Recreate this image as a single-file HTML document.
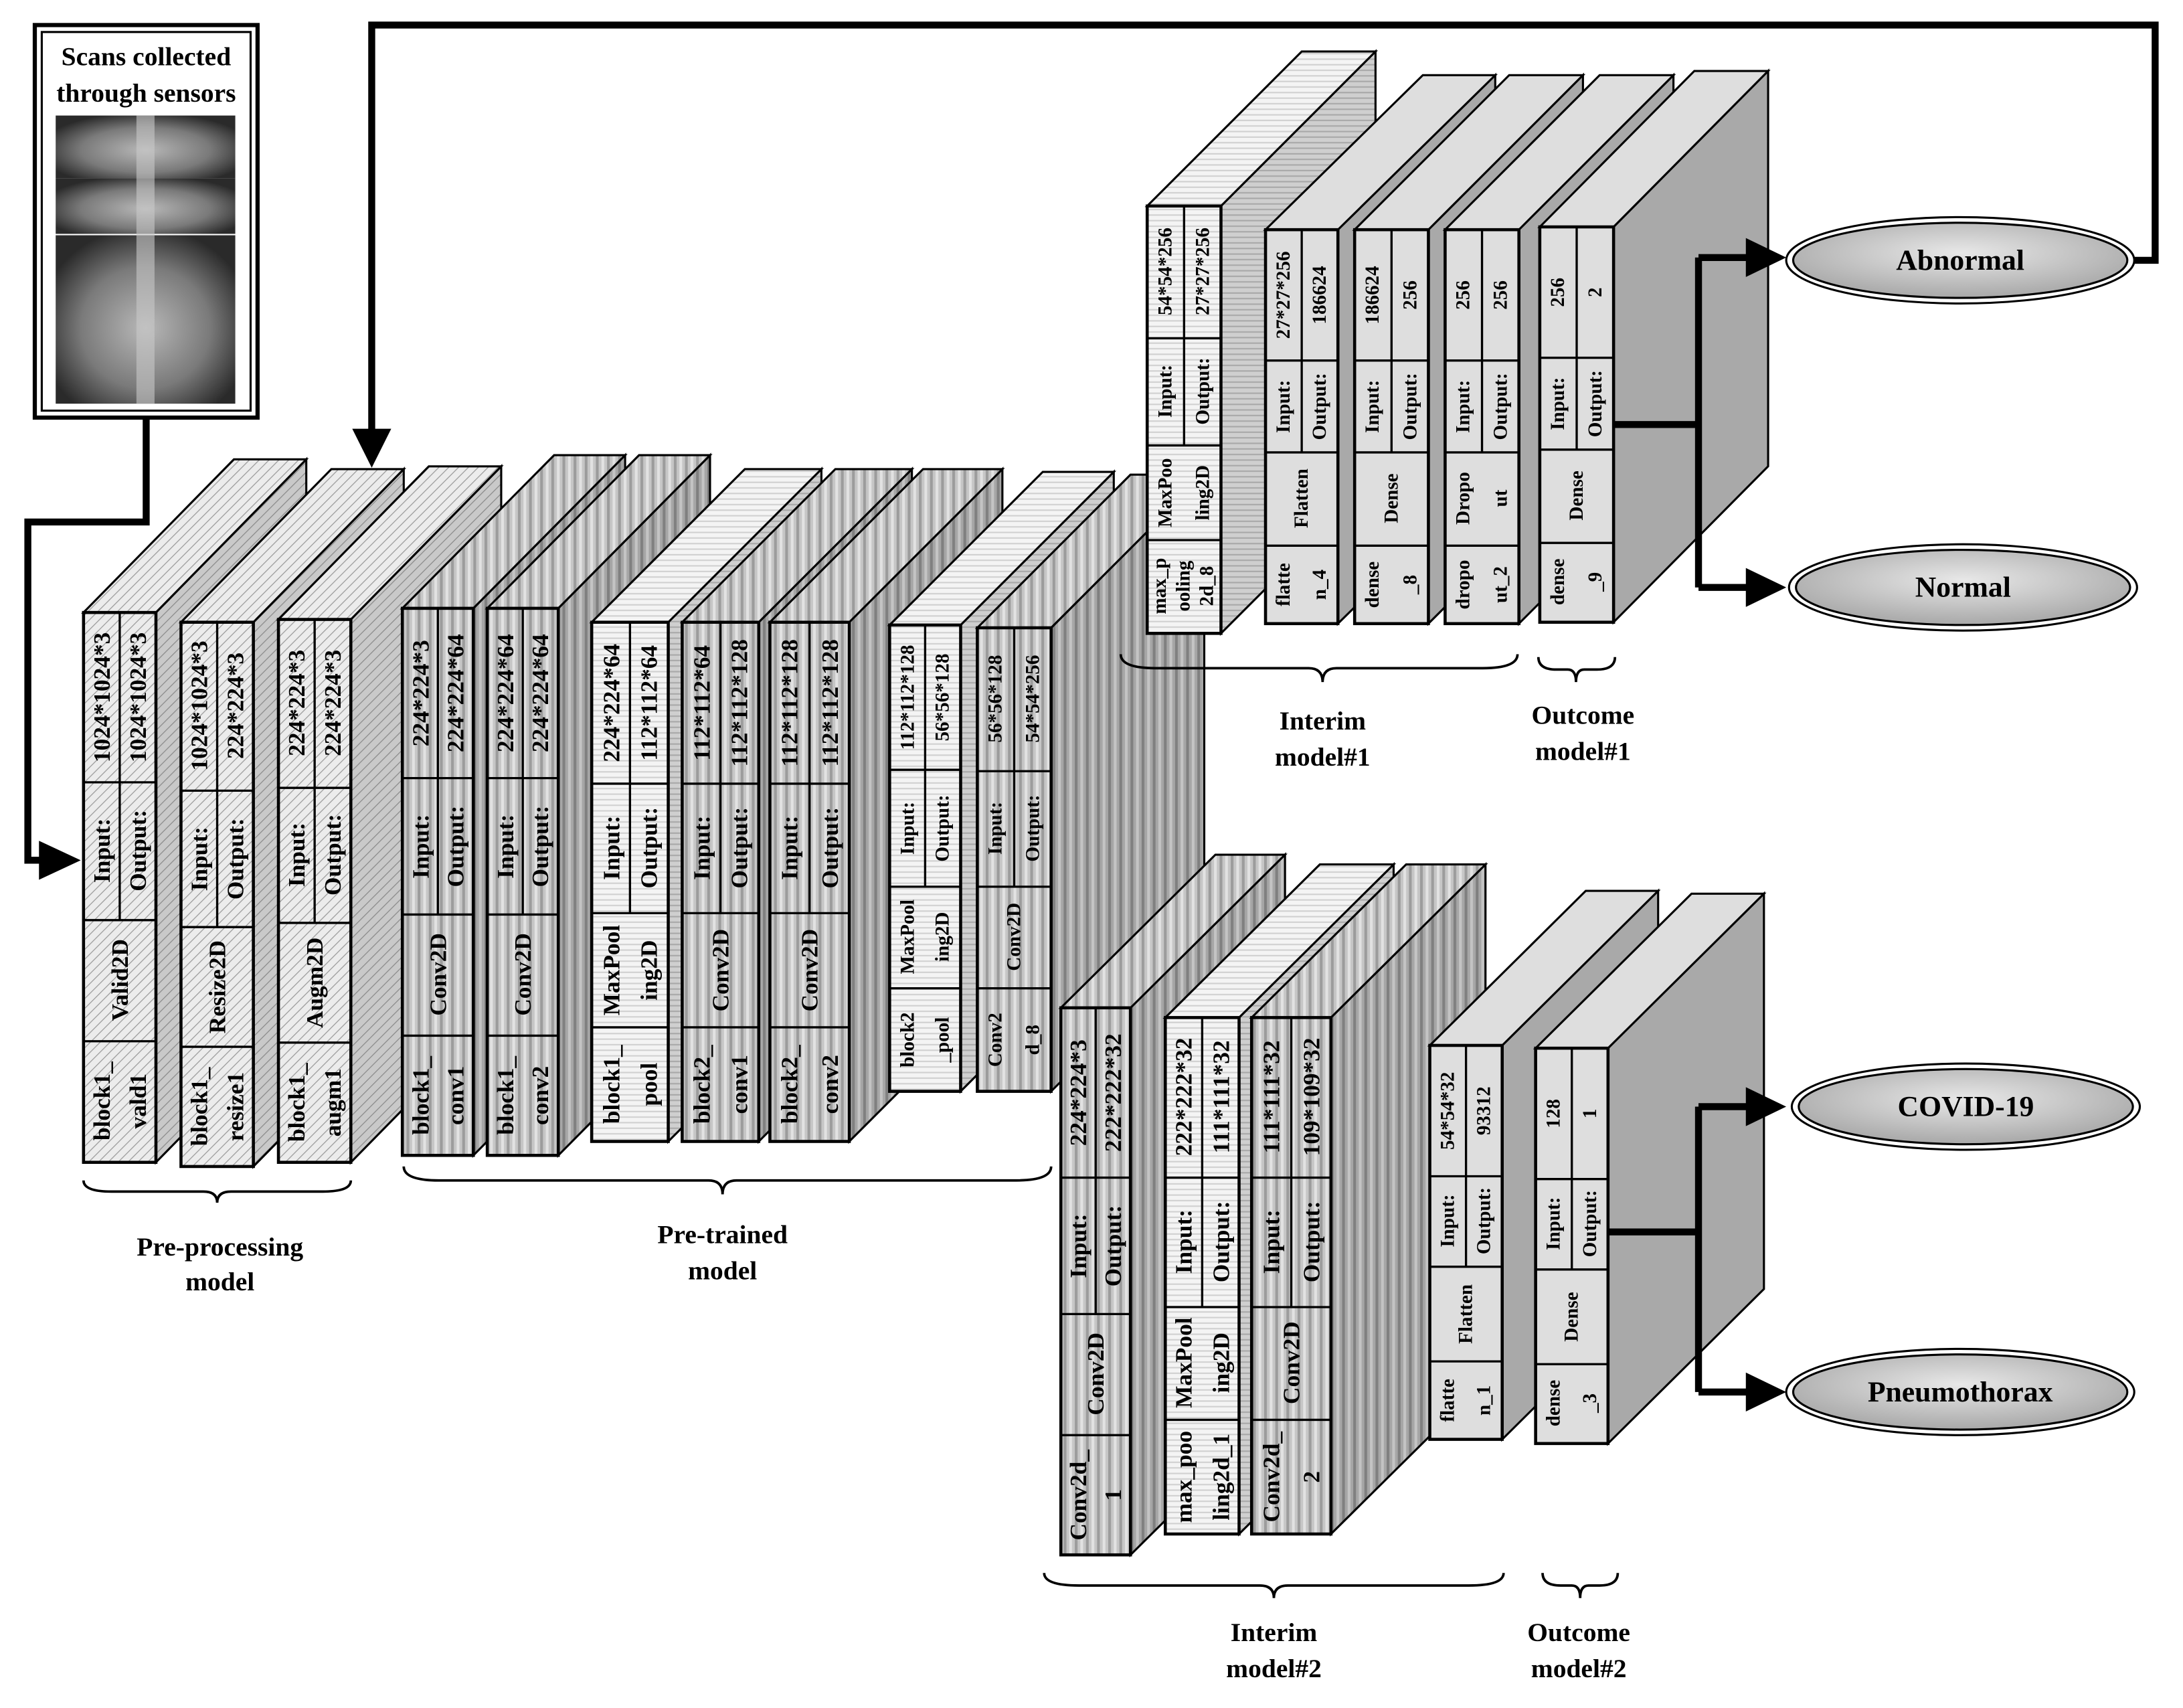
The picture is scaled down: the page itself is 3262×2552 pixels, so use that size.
<!DOCTYPE html>
<html><head><meta charset="utf-8">
<style>
html,body{margin:0;padding:0;background:#fff;}
svg{display:block;}
.s{stroke:#000;stroke-width:1.5;stroke-linejoin:miter;}
.f{stroke:#000;stroke-width:2.2;}
.l{stroke:#000;stroke-width:1.6;fill:none;}
text{font-family:"Liberation Serif",serif;font-weight:bold;fill:#000;}
.v text{text-anchor:middle;dominant-baseline:central;}
.a{font-size:17px;}
.b{font-size:14px;}
.lab{font-size:19px;text-anchor:middle;}
.el{font-size:21px;text-anchor:middle;dominant-baseline:central;}
.br{stroke:#000;stroke-width:1.8;fill:none;}
.k{stroke:#000;stroke-width:5;fill:none;}
</style></head>
<body>
<svg width="3262" height="2552" viewBox="0 0 1568 1227" preserveAspectRatio="none" xmlns="http://www.w3.org/2000/svg">
<defs>
<pattern id="h" width="5" height="5" patternUnits="userSpaceOnUse" patternTransform="rotate(45)"><rect width="5" height="5" fill="#ececec"/><line x1="0" y1="0" x2="0" y2="5" stroke="#9a9a9a" stroke-width="1.2"/></pattern>
<pattern id="hd" width="5" height="5" patternUnits="userSpaceOnUse" patternTransform="rotate(45)"><rect width="5" height="5" fill="#c9c9c9"/><line x1="0" y1="0" x2="0" y2="5" stroke="#8a8a8a" stroke-width="1.2"/></pattern>
<pattern id="vs" width="8" height="8" patternUnits="userSpaceOnUse"><rect width="8" height="8" fill="#c6c6c6"/><rect x="0" width="2" height="8" fill="#e2e2e2"/><rect x="4" width="2" height="8" fill="#9c9c9c"/></pattern>
<pattern id="vd" width="8" height="8" patternUnits="userSpaceOnUse"><rect width="8" height="8" fill="#a6a6a6"/><rect x="0" width="2" height="8" fill="#c4c4c4"/><rect x="4" width="2" height="8" fill="#808080"/></pattern>
<pattern id="pl" width="4" height="4" patternUnits="userSpaceOnUse"><rect width="4" height="4" fill="#f4f4f4"/><rect y="2" width="4" height="1" fill="#d0d0d0"/></pattern>
<pattern id="pd" width="4" height="4" patternUnits="userSpaceOnUse"><rect width="4" height="4" fill="#cfcfcf"/><rect y="2" width="4" height="1" fill="#a8a8a8"/></pattern>
<radialGradient id="eg" cx="50%" cy="40%" r="60%"><stop offset="0" stop-color="#e8e8e8"/><stop offset="1" stop-color="#a8a8a8"/></radialGradient>
<radialGradient id="xr" cx="50%" cy="55%" r="60%"><stop offset="0" stop-color="#b8b8b8"/><stop offset="0.6" stop-color="#7a7a7a"/><stop offset="1" stop-color="#2a2a2a"/></radialGradient>
</defs>

<rect x="25" y="18" width="160" height="282" fill="#fff" stroke="#000" stroke-width="3"/>
<rect x="30" y="23" width="150" height="272" fill="none" stroke="#000" stroke-width="1.5"/>
<text x="105" y="47" style="font-size:19px;text-anchor:middle">Scans collected</text>
<text x="105" y="73" style="font-size:19px;text-anchor:middle">through sensors</text>
<rect x="40" y="83" width="129" height="45" fill="url(#xr)"/>
<rect x="40" y="128" width="129" height="40" fill="url(#xr)"/>
<rect x="40" y="169" width="129" height="121" fill="url(#xr)"/>
<rect x="98" y="83" width="13" height="207" fill="#c8c8c8" opacity="0.6"/>

<path class="k" d="M105,300V375H20V618H32"/>
<polygon points="28,604 58,618 28,632"/>
<path class="k" d="M1533,187H1548V18H267V312"/>
<polygon points="253,308 281,308 267,336"/>

<g class="v">
<polygon class="s" fill="url(#hd)" points="112,440 220,330 220,725 112,835"/>
<polygon class="s" fill="url(#h)" points="60,440 112,440 220,330 168,330"/>
<rect class="f" fill="url(#h)" x="60" y="440" width="52" height="395"/>
<path class="l" d="M86,440V661M60,562H112M60,661H112M60,748H112"/>
<text class="a" transform="translate(73,501) rotate(-90)">1024*1024*3</text>
<text class="a" transform="translate(99,501) rotate(-90)">1024*1024*3</text>
<text class="a" transform="translate(73,611) rotate(-90)">Input:</text>
<text class="a" transform="translate(99,611) rotate(-90)">Output:</text>
<text class="a" transform="translate(86,704) rotate(-90)">Valid2D</text>
<text class="a" transform="translate(73,791) rotate(-90)">block1_</text>
<text class="a" transform="translate(99,791) rotate(-90)">vald1</text>

<polygon class="s" fill="url(#hd)" points="182,447 290,337 290,728 182,838"/>
<polygon class="s" fill="url(#h)" points="130,447 182,447 290,337 238,337"/>
<rect class="f" fill="url(#h)" x="130" y="447" width="52" height="391"/>
<path class="l" d="M156,447V666M130,568H182M130,666H182M130,752H182"/>
<text class="a" transform="translate(143,507) rotate(-90)">1024*1024*3</text>
<text class="a" transform="translate(169,507) rotate(-90)">224*224*3</text>
<text class="a" transform="translate(143,617) rotate(-90)">Input:</text>
<text class="a" transform="translate(169,617) rotate(-90)">Output:</text>
<text class="a" transform="translate(156,709) rotate(-90)">Resize2D</text>
<text class="a" transform="translate(143,795) rotate(-90)">block1_</text>
<text class="a" transform="translate(169,795) rotate(-90)">resize1</text>

<polygon class="s" fill="url(#hd)" points="252,445 360,335 360,725 252,835"/>
<polygon class="s" fill="url(#h)" points="200,445 252,445 360,335 308,335"/>
<rect class="f" fill="url(#h)" x="200" y="445" width="52" height="390"/>
<path class="l" d="M226,445V663M200,566H252M200,663H252M200,749H252"/>
<text class="a" transform="translate(213,505) rotate(-90)">224*224*3</text>
<text class="a" transform="translate(239,505) rotate(-90)">224*224*3</text>
<text class="a" transform="translate(213,614) rotate(-90)">Input:</text>
<text class="a" transform="translate(239,614) rotate(-90)">Output:</text>
<text class="a" transform="translate(226,706) rotate(-90)">Augm2D</text>
<text class="a" transform="translate(213,792) rotate(-90)">block1_</text>
<text class="a" transform="translate(239,792) rotate(-90)">augm1</text>

<polygon class="s" fill="url(#vd)" points="340,437 449,327 449,720 340,830"/>
<polygon class="s" fill="url(#vs)" points="289,437 340,437 449,327 398,327"/>
<rect class="f" fill="url(#vs)" x="289" y="437" width="51" height="393"/>
<path class="l" d="M314.5,437V657M289,559H340M289,657H340M289,744H340"/>
<text class="a" transform="translate(302,498) rotate(-90)">224*224*3</text>
<text class="a" transform="translate(327,498) rotate(-90)">224*224*64</text>
<text class="a" transform="translate(302,608) rotate(-90)">Input:</text>
<text class="a" transform="translate(327,608) rotate(-90)">Output:</text>
<text class="a" transform="translate(314.5,700) rotate(-90)">Conv2D</text>
<text class="a" transform="translate(302,787) rotate(-90)">block1_</text>
<text class="a" transform="translate(327,787) rotate(-90)">conv1</text>

<polygon class="s" fill="url(#vd)" points="401,437 510,327 510,720 401,830"/>
<polygon class="s" fill="url(#vs)" points="350,437 401,437 510,327 459,327"/>
<rect class="f" fill="url(#vs)" x="350" y="437" width="51" height="393"/>
<path class="l" d="M375.5,437V657M350,559H401M350,657H401M350,744H401"/>
<text class="a" transform="translate(363,498) rotate(-90)">224*224*64</text>
<text class="a" transform="translate(388,498) rotate(-90)">224*224*64</text>
<text class="a" transform="translate(363,608) rotate(-90)">Input:</text>
<text class="a" transform="translate(388,608) rotate(-90)">Output:</text>
<text class="a" transform="translate(375.5,700) rotate(-90)">Conv2D</text>
<text class="a" transform="translate(363,787) rotate(-90)">block1_</text>
<text class="a" transform="translate(388,787) rotate(-90)">conv2</text>

<polygon class="s" fill="url(#pd)" points="480,447 590,337 590,710 480,820"/>
<polygon class="s" fill="url(#pl)" points="425,447 480,447 590,337 535,337"/>
<rect class="f" fill="url(#pl)" x="425" y="447" width="55" height="373"/>
<path class="l" d="M452.5,447V656M425,563H480M425,656H480M425,738H480"/>
<text class="a" transform="translate(439,505) rotate(-90)">224*224*64</text>
<text class="a" transform="translate(466,505) rotate(-90)">112*112*64</text>
<text class="a" transform="translate(439,609) rotate(-90)">Input:</text>
<text class="a" transform="translate(466,609) rotate(-90)">Output:</text>
<text class="a" transform="translate(439,697) rotate(-90)">MaxPool</text>
<text class="a" transform="translate(466,697) rotate(-90)">ing2D</text>
<text class="a" transform="translate(439,779) rotate(-90)">block1_</text>
<text class="a" transform="translate(466,779) rotate(-90)">pool</text>

<polygon class="s" fill="url(#vd)" points="545,447 655,337 655,710 545,820"/>
<polygon class="s" fill="url(#vs)" points="490,447 545,447 655,337 600,337"/>
<rect class="f" fill="url(#vs)" x="490" y="447" width="55" height="373"/>
<path class="l" d="M517.5,447V656M490,563H545M490,656H545M490,738H545"/>
<text class="a" transform="translate(504,505) rotate(-90)">112*112*64</text>
<text class="a" transform="translate(531,505) rotate(-90)">112*112*128</text>
<text class="a" transform="translate(504,609) rotate(-90)">Input:</text>
<text class="a" transform="translate(531,609) rotate(-90)">Output:</text>
<text class="a" transform="translate(517.5,697) rotate(-90)">Conv2D</text>
<text class="a" transform="translate(504,779) rotate(-90)">block2_</text>
<text class="a" transform="translate(531,779) rotate(-90)">conv1</text>

<polygon class="s" fill="url(#vd)" points="610,447 720,337 720,710 610,820"/>
<polygon class="s" fill="url(#vs)" points="553,447 610,447 720,337 663,337"/>
<rect class="f" fill="url(#vs)" x="553" y="447" width="57" height="373"/>
<path class="l" d="M581.5,447V656M553,563H610M553,656H610M553,738H610"/>
<text class="a" transform="translate(567,505) rotate(-90)">112*112*128</text>
<text class="a" transform="translate(596,505) rotate(-90)">112*112*128</text>
<text class="a" transform="translate(567,609) rotate(-90)">Input:</text>
<text class="a" transform="translate(596,609) rotate(-90)">Output:</text>
<text class="a" transform="translate(581.5,697) rotate(-90)">Conv2D</text>
<text class="a" transform="translate(567,779) rotate(-90)">block2_</text>
<text class="a" transform="translate(596,779) rotate(-90)">conv2</text>

<polygon class="s" fill="url(#pd)" points="690,449 800,339 800,674 690,784"/>
<polygon class="s" fill="url(#pl)" points="639,449 690,449 800,339 749,339"/>
<rect class="f" fill="url(#pl)" x="639" y="449" width="51" height="335"/>
<path class="l" d="M664.5,449V637M639,553H690M639,637H690M639,710H690"/>
<text class="b" transform="translate(652,501) rotate(-90)">112*112*128</text>
<text class="b" transform="translate(677,501) rotate(-90)">56*56*128</text>
<text class="b" transform="translate(652,595) rotate(-90)">Input:</text>
<text class="b" transform="translate(677,595) rotate(-90)">Output:</text>
<text class="b" transform="translate(652,673) rotate(-90)">MaxPool</text>
<text class="b" transform="translate(677,673) rotate(-90)">ing2D</text>
<text class="b" transform="translate(652,747) rotate(-90)">block2</text>
<text class="b" transform="translate(677,747) rotate(-90)">_pool</text>

<polygon class="s" fill="url(#vd)" points="755,451 865,341 865,674 755,784"/>
<polygon class="s" fill="url(#vs)" points="702,451 755,451 865,341 812,341"/>
<rect class="f" fill="url(#vs)" x="702" y="451" width="53" height="333"/>
<path class="l" d="M728.5,451V637M702,554H755M702,637H755M702,710H755"/>
<text class="b" transform="translate(715,502) rotate(-90)">56*56*128</text>
<text class="b" transform="translate(742,502) rotate(-90)">54*54*256</text>
<text class="b" transform="translate(715,595) rotate(-90)">Input:</text>
<text class="b" transform="translate(742,595) rotate(-90)">Output:</text>
<text class="b" transform="translate(728.5,673) rotate(-90)">Conv2D</text>
<text class="b" transform="translate(715,747) rotate(-90)">Conv2</text>
<text class="b" transform="translate(742,747) rotate(-90)">d_8</text>

<polygon class="s" fill="url(#pd)" points="877,148 988,37 988,344 877,455"/>
<polygon class="s" fill="url(#pl)" points="824,148 877,148 988,37 935,37"/>
<rect class="f" fill="url(#pl)" x="824" y="148" width="53" height="307"/>
<path class="l" d="M850.5,148V320M824,243H877M824,320H877M824,388H877"/>
<text class="b" transform="translate(837,195) rotate(-90)">54*54*256</text>
<text class="b" transform="translate(864,195) rotate(-90)">27*27*256</text>
<text class="b" transform="translate(837,281) rotate(-90)">Input:</text>
<text class="b" transform="translate(864,281) rotate(-90)">Output:</text>
<text class="b" transform="translate(837,354) rotate(-90)">MaxPoo</text>
<text class="b" transform="translate(864,354) rotate(-90)">ling2D</text>
<text class="b" transform="translate(833,421) rotate(-90)">max_p</text>
<text class="b" transform="translate(850,421) rotate(-90)">ooling</text>
<text class="b" transform="translate(867,421) rotate(-90)">2d_8</text>

<polygon class="s" fill="#a9a9a9" points="961,165 1074,54 1074,337 961,448"/>
<polygon class="s" fill="#dedede" points="909,165 961,165 1074,54 1022,54"/>
<rect class="f" fill="#dedede" x="909" y="165" width="52" height="283"/>
<path class="l" d="M935,165V325M909,259H961M909,325H961M909,392H961"/>
<text class="b" transform="translate(922,212) rotate(-90)">27*27*256</text>
<text class="b" transform="translate(948,212) rotate(-90)">186624</text>
<text class="b" transform="translate(922,292) rotate(-90)">Input:</text>
<text class="b" transform="translate(948,292) rotate(-90)">Output:</text>
<text class="b" transform="translate(935,358) rotate(-90)">Flatten</text>
<text class="b" transform="translate(922,420) rotate(-90)">flatte</text>
<text class="b" transform="translate(948,420) rotate(-90)">n_4</text>

<polygon class="s" fill="#a9a9a9" points="1026,165 1137,54 1137,337 1026,448"/>
<polygon class="s" fill="#dedede" points="973,165 1026,165 1137,54 1084,54"/>
<rect class="f" fill="#dedede" x="973" y="165" width="53" height="283"/>
<path class="l" d="M999.5,165V325M973,259H1026M973,325H1026M973,392H1026"/>
<text class="b" transform="translate(986,212) rotate(-90)">186624</text>
<text class="b" transform="translate(1013,212) rotate(-90)">256</text>
<text class="b" transform="translate(986,292) rotate(-90)">Input:</text>
<text class="b" transform="translate(1013,292) rotate(-90)">Output:</text>
<text class="b" transform="translate(999.5,358) rotate(-90)">Dense</text>
<text class="b" transform="translate(986,420) rotate(-90)">dense</text>
<text class="b" transform="translate(1013,420) rotate(-90)">_8</text>

<polygon class="s" fill="#a9a9a9" points="1091,165 1202,54 1202,337 1091,448"/>
<polygon class="s" fill="#dedede" points="1038,165 1091,165 1202,54 1149,54"/>
<rect class="f" fill="#dedede" x="1038" y="165" width="53" height="283"/>
<path class="l" d="M1064.5,165V325M1038,259H1091M1038,325H1091M1038,392H1091"/>
<text class="b" transform="translate(1051,212) rotate(-90)">256</text>
<text class="b" transform="translate(1078,212) rotate(-90)">256</text>
<text class="b" transform="translate(1051,292) rotate(-90)">Input:</text>
<text class="b" transform="translate(1078,292) rotate(-90)">Output:</text>
<text class="b" transform="translate(1051,358) rotate(-90)">Dropo</text>
<text class="b" transform="translate(1078,358) rotate(-90)">ut</text>
<text class="b" transform="translate(1051,420) rotate(-90)">dropo</text>
<text class="b" transform="translate(1078,420) rotate(-90)">ut_2</text>

<polygon class="s" fill="#a9a9a9" points="1159,163 1270,51 1270,335 1159,447"/>
<polygon class="s" fill="#dedede" points="1106,163 1159,163 1270,51 1217,51"/>
<rect class="f" fill="#dedede" x="1106" y="163" width="53" height="284"/>
<path class="l" d="M1132.5,163V323M1106,257H1159M1106,323H1159M1106,390H1159"/>
<text class="b" transform="translate(1119,210) rotate(-90)">256</text>
<text class="b" transform="translate(1146,210) rotate(-90)">2</text>
<text class="b" transform="translate(1119,290) rotate(-90)">Input:</text>
<text class="b" transform="translate(1146,290) rotate(-90)">Output:</text>
<text class="b" transform="translate(1132.5,356) rotate(-90)">Dense</text>
<text class="b" transform="translate(1119,418) rotate(-90)">dense</text>
<text class="b" transform="translate(1146,418) rotate(-90)">_9</text>

<polygon class="s" fill="url(#vd)" points="812,724 923,614 923,1007 812,1117"/>
<polygon class="s" fill="url(#vs)" points="762,724 812,724 923,614 873,614"/>
<rect class="f" fill="url(#vs)" x="762" y="724" width="50" height="393"/>
<path class="l" d="M787,724V944M762,846H812M762,944H812M762,1031H812"/>
<text class="a" transform="translate(774.5,785) rotate(-90)">224*224*3</text>
<text class="a" transform="translate(799.5,785) rotate(-90)">222*222*32</text>
<text class="a" transform="translate(774.5,895) rotate(-90)">Input:</text>
<text class="a" transform="translate(799.5,895) rotate(-90)">Output:</text>
<text class="a" transform="translate(787,987) rotate(-90)">Conv2D</text>
<text class="a" transform="translate(774.5,1074) rotate(-90)">Conv2d_</text>
<text class="a" transform="translate(799.5,1074) rotate(-90)">1</text>

<polygon class="s" fill="url(#pd)" points="890,731 1001,621 1001,992 890,1102"/>
<polygon class="s" fill="url(#pl)" points="837,731 890,731 1001,621 948,621"/>
<rect class="f" fill="url(#pl)" x="837" y="731" width="53" height="371"/>
<path class="l" d="M863.5,731V939M837,846H890M837,939H890M837,1020H890"/>
<text class="a" transform="translate(850,788) rotate(-90)">222*222*32</text>
<text class="a" transform="translate(877,788) rotate(-90)">111*111*32</text>
<text class="a" transform="translate(850,892) rotate(-90)">Input:</text>
<text class="a" transform="translate(877,892) rotate(-90)">Output:</text>
<text class="a" transform="translate(850,979) rotate(-90)">MaxPool</text>
<text class="a" transform="translate(877,979) rotate(-90)">ing2D</text>
<text class="a" transform="translate(850,1061) rotate(-90)">max_poo</text>
<text class="a" transform="translate(877,1061) rotate(-90)">ling2d_1</text>

<polygon class="s" fill="url(#vd)" points="956,731 1067,621 1067,992 956,1102"/>
<polygon class="s" fill="url(#vs)" points="899,731 956,731 1067,621 1010,621"/>
<rect class="f" fill="url(#vs)" x="899" y="731" width="57" height="371"/>
<path class="l" d="M927.5,731V939M899,846H956M899,939H956M899,1020H956"/>
<text class="a" transform="translate(913,788) rotate(-90)">111*111*32</text>
<text class="a" transform="translate(942,788) rotate(-90)">109*109*32</text>
<text class="a" transform="translate(913,892) rotate(-90)">Input:</text>
<text class="a" transform="translate(942,892) rotate(-90)">Output:</text>
<text class="a" transform="translate(927.5,979) rotate(-90)">Conv2D</text>
<text class="a" transform="translate(913,1061) rotate(-90)">Conv2d_</text>
<text class="a" transform="translate(942,1061) rotate(-90)">2</text>

<polygon class="s" fill="#a9a9a9" points="1079,751 1191,640 1191,923 1079,1034"/>
<polygon class="s" fill="#dedede" points="1027,751 1079,751 1191,640 1139,640"/>
<rect class="f" fill="#dedede" x="1027" y="751" width="52" height="283"/>
<path class="l" d="M1053,751V910M1027,845H1079M1027,910H1079M1027,978H1079"/>
<text class="b" transform="translate(1040,798) rotate(-90)">54*54*32</text>
<text class="b" transform="translate(1066,798) rotate(-90)">93312</text>
<text class="b" transform="translate(1040,877) rotate(-90)">Input:</text>
<text class="b" transform="translate(1066,877) rotate(-90)">Output:</text>
<text class="b" transform="translate(1053,944) rotate(-90)">Flatten</text>
<text class="b" transform="translate(1040,1006) rotate(-90)">flatte</text>
<text class="b" transform="translate(1066,1006) rotate(-90)">n_1</text>

<polygon class="s" fill="#a9a9a9" points="1155,753 1267,642 1267,926 1155,1037"/>
<polygon class="s" fill="#dedede" points="1103,753 1155,753 1267,642 1215,642"/>
<rect class="f" fill="#dedede" x="1103" y="753" width="52" height="284"/>
<path class="l" d="M1129,753V912M1103,847H1155M1103,912H1155M1103,980H1155"/>
<text class="b" transform="translate(1116,800) rotate(-90)">128</text>
<text class="b" transform="translate(1142,800) rotate(-90)">1</text>
<text class="b" transform="translate(1116,879) rotate(-90)">Input:</text>
<text class="b" transform="translate(1142,879) rotate(-90)">Output:</text>
<text class="b" transform="translate(1129,946) rotate(-90)">Dense</text>
<text class="b" transform="translate(1116,1008) rotate(-90)">dense</text>
<text class="b" transform="translate(1142,1008) rotate(-90)">_3</text>
</g>

<path class="k" d="M1159,305H1220M1220,185V422M1220,185H1258M1220,422H1258"/>
<polygon points="1254,171 1283,185 1254,199"/>
<polygon points="1254,408 1283,422 1254,436"/>
<path class="k" d="M1155,885H1220M1220,795V1000M1220,795H1258M1220,1000H1258"/>
<polygon points="1254,781 1283,795 1254,809"/>
<polygon points="1254,986 1283,1000 1254,1014"/>

<ellipse cx="1408" cy="187" rx="125" ry="31" fill="#fff" stroke="#000" stroke-width="1.5"/>
<ellipse cx="1408" cy="187" rx="120" ry="27" fill="url(#eg)" stroke="#000" stroke-width="1.5"/>
<text class="el" x="1408" y="187">Abnormal</text>
<ellipse cx="1410" cy="422" rx="125" ry="31" fill="#fff" stroke="#000" stroke-width="1.5"/>
<ellipse cx="1410" cy="422" rx="120" ry="27" fill="url(#eg)" stroke="#000" stroke-width="1.5"/>
<text class="el" x="1410" y="422">Normal</text>
<ellipse cx="1412" cy="795" rx="125" ry="31" fill="#fff" stroke="#000" stroke-width="1.5"/>
<ellipse cx="1412" cy="795" rx="120" ry="27" fill="url(#eg)" stroke="#000" stroke-width="1.5"/>
<text class="el" x="1412" y="795">COVID-19</text>
<ellipse cx="1408" cy="1000" rx="125" ry="31" fill="#fff" stroke="#000" stroke-width="1.5"/>
<ellipse cx="1408" cy="1000" rx="120" ry="27" fill="url(#eg)" stroke="#000" stroke-width="1.5"/>
<text class="el" x="1408" y="1000">Pneumothorax</text>

<path class="br" d="M60,848Q60,856 80,856L146,856Q156,856 156,864Q156,856 166,856L232,856Q252,856 252,848"/>
<path class="br" d="M290,838Q290,848 315,848L509,848Q519,848 519,858Q519,848 529,848L730,848Q755,848 755,838"/>
<path class="br" d="M805,470Q805,480 830,480L940,480Q950,480 950,490Q950,480 960,480L1065,480Q1090,480 1090,470"/>
<path class="br" d="M1105,472Q1105,481 1118,481L1126,481Q1132,481 1132,490Q1132,481 1138,481L1147,481Q1160,481 1160,472"/>
<path class="br" d="M750,1130Q750,1139 775,1139L905,1139Q915,1139 915,1148Q915,1139 925,1139L1055,1139Q1080,1139 1080,1130"/>
<path class="br" d="M1108,1130Q1108,1139 1121,1139L1129,1139Q1135,1139 1135,1148Q1135,1139 1141,1139L1149,1139Q1162,1139 1162,1130"/>

<text class="lab" x="158" y="902">Pre-processing</text>
<text class="lab" x="158" y="927">model</text>
<text class="lab" x="519" y="893">Pre-trained</text>
<text class="lab" x="519" y="919">model</text>
<text class="lab" x="950" y="524">Interim</text>
<text class="lab" x="950" y="550">model#1</text>
<text class="lab" x="1137" y="520">Outcome</text>
<text class="lab" x="1137" y="546">model#1</text>
<text class="lab" x="915" y="1179">Interim</text>
<text class="lab" x="915" y="1205">model#2</text>
<text class="lab" x="1134" y="1179">Outcome</text>
<text class="lab" x="1134" y="1205">model#2</text>
</svg>
</body></html>
